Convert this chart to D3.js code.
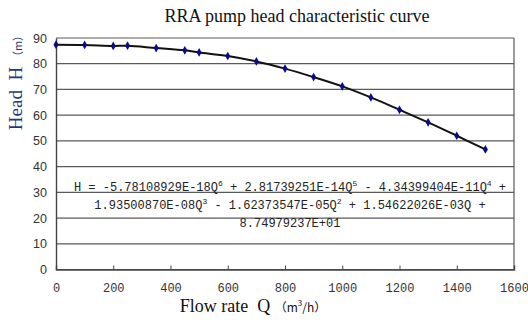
<!DOCTYPE html>
<html>
<head>
<meta charset="utf-8">
<script src="https://cdn.jsdelivr.net/npm/d3@7"></script>
<style>
  body { margin: 0; background: #fff; }
  svg { display: block; }
  text { white-space: pre; }
</style>
</head>
<body>
<div id="chart"></div>
<script>
// flow rate (m3/h) and head (m)
const flow = [0, 100, 200, 250, 350, 450, 500, 600, 700, 800, 900, 1000, 1100, 1200, 1300, 1400, 1500];
const head = [87.4, 87.3, 86.9, 87.0, 86.1, 85.2, 84.4, 83.0, 80.9, 78.1, 74.8, 71.2, 66.9, 62.1, 57.2, 52.0, 46.7];
const xTicks = [0, 200, 400, 600, 800, 1000, 1200, 1400, 1600];
const yTicks = [0, 10, 20, 30, 40, 50, 60, 70, 80, 90];
const eqLines = [
    [["H = -5.78108929E-18Q", "6"], [" + 2.81739251E-14Q", "5"], [" - 4.34399404E-11Q", "4"], [" +", ""]],
    [["1.93500870E-08Q", "3"], [" - 1.62373547E-05Q", "2"], [" + 1.54622026E-03Q +", ""]],
    [["8.74979237E+01", ""]]
];

const W = 528, H = 324;
const margin = { top: 38, right: 14, bottom: 54.5, left: 56 },
      width = W - margin.left - margin.right,
      height = H - margin.top - margin.bottom;

const svg = d3.select("#chart").append("svg")
    .attr("width", W)
    .attr("height", H);

const g = svg.append("g")
    .attr("transform", `translate(${margin.left},${margin.top})`);

const x = d3.scaleLinear().domain([0, 1600]).range([0, width]);
const y = d3.scaleLinear().domain([0, 90]).range([height, 0]);

// gridlines
g.append("g")
    .selectAll("line")
    .data(yTicks)
    .join("line")
    .attr("x1", 0).attr("x2", width)
    .attr("y1", d => y(d)).attr("y2", d => y(d))
    .attr("stroke", "#5a5a5a")
    .attr("stroke-width", 1.2);

// right border
g.append("line")
    .attr("x1", width).attr("x2", width)
    .attr("y1", 0).attr("y2", height)
    .attr("stroke", "#5a5a5a").attr("stroke-width", 1.2);

// X axis with inner ticks
const xAxis = g.append("g")
    .attr("transform", `translate(0,${height})`)
    .call(d3.axisBottom(x).tickValues(xTicks).tickSize(-4).tickPadding(14).tickFormat(d3.format("d")));
xAxis.select(".domain").attr("stroke", "#444").attr("stroke-width", 1.4);
xAxis.selectAll(".tick line").attr("stroke", "#444");
xAxis.selectAll(".tick text")
    .attr("font-family", "'Liberation Mono', 'DejaVu Sans Mono', monospace")
    .attr("font-size", 12)
    .attr("fill", "#333");

// Y axis
const yAxis = g.append("g")
    .call(d3.axisLeft(y).tickValues(yTicks).tickSize(0).tickPadding(9));
yAxis.select(".domain").attr("stroke", "#444").attr("stroke-width", 1.4);
yAxis.selectAll(".tick text")
    .attr("font-family", "'Liberation Sans', Arial, sans-serif")
    .attr("font-size", 12.5)
    .attr("fill", "#333");

// curve
const pts = flow.map((q, i) => ({ q: q, h: head[i] }));
g.append("path")
    .datum(pts)
    .attr("fill", "none")
    .attr("stroke", "#111")
    .attr("stroke-width", 2)
    .attr("d", d3.line().x(d => x(d.q)).y(d => y(d.h)).curve(d3.curveCatmullRom));

// markers
g.selectAll(".pt")
    .data(pts)
    .join("path")
    .attr("class", "pt")
    .attr("transform", d => `translate(${x(d.q)},${y(d.h)})`)
    .attr("d", d3.symbol(d3.symbolDiamond, 22))
    .attr("fill", "#0a0a8c");

// equation
const eq = g.append("g")
    .attr("font-family", "'Liberation Mono', 'DejaVu Sans Mono', monospace")
    .attr("font-size", 12)
    .attr("fill", "#222");
eqLines.forEach((line, i) => {
    const t = eq.append("text")
        .attr("x", 234)
        .attr("y", 153 + i * 18)
        .attr("text-anchor", "middle");
    let shift = 0;
    line.forEach(([base, sup]) => {
        t.append("tspan").attr("dy", shift).text(base);
        shift = 0;
        if (sup) {
            t.append("tspan").attr("font-size", 8).attr("dy", -5).text(sup);
            shift = 5;
        }
    });
});

// title
svg.append("text")
    .attr("x", 297)
    .attr("y", 22)
    .attr("text-anchor", "middle")
    .attr("font-family", "'Liberation Serif', 'Times New Roman', serif")
    .attr("font-size", 18)
    .attr("fill", "#111")
    .text("RRA pump head characteristic curve");

// x axis title
const xt = svg.append("text")
    .attr("x", 253)
    .attr("y", 312)
    .attr("text-anchor", "middle")
    .attr("font-family", "'Liberation Serif', 'Times New Roman', serif")
    .attr("font-size", 18)
    .attr("fill", "#111");
xt.append("tspan").text("Flow rate  Q ");
xt.append("tspan").attr("font-size", 12).attr("font-family", "'Noto Sans CJK SC', sans-serif").text("（m");
xt.append("tspan").attr("font-size", 8).attr("dy", -6).attr("font-family", "'Noto Sans CJK SC', sans-serif").text("3");
xt.append("tspan").attr("font-size", 12).attr("dy", 6).attr("font-family", "'Noto Sans CJK SC', sans-serif").text("/h）");

// y axis title
const yt = svg.append("text")
    .attr("transform", "translate(22,80) rotate(-90)")
    .attr("text-anchor", "middle")
    .attr("font-family", "'Liberation Serif', 'Times New Roman', serif")
    .attr("font-size", 19)
    .attr("fill", "#1f3a78");
yt.append("tspan").text("Head  H ");
yt.append("tspan").attr("font-size", 11).attr("font-family", "'Noto Sans CJK SC', sans-serif").text("（m）");
</script>
</body>
</html>
